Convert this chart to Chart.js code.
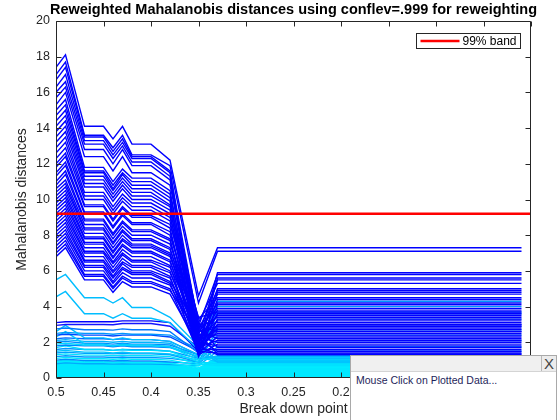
<!DOCTYPE html>
<html>
<head>
<meta charset="utf-8">
<script src="https://cdn.jsdelivr.net/npm/chart.js@4.4.1/dist/chart.umd.min.js"></script>
<style>
  body { margin: 0; background: #fff; }
  #wrap { position: relative; width: 560px; height: 420px; }
  #popup {
    position: absolute; left: 350px; top: 355px; width: 205px; height: 66px;
    border: 1px solid #a9a9a9; background: #fff;
    font-family: "Liberation Sans", Arial, sans-serif;
  }
  #popup .bar { position: relative; height: 15px; background: #f0f0f0; border-bottom: 1px solid #d4d4d4; }
  #popup .close {
    position: absolute; right: 0; top: 0; width: 14px; height: 15px;
    border-left: 1px solid #b8b8b8; background: #ececec;
    font-size: 15px; line-height: 15px; text-align: center; color: #444;
  }
  #popup .msg { font-size: 10.5px; line-height: 12px; color: #1e1e5a; padding: 2px 0 0 5px; }
</style>
</head>
<body>
<div id="wrap">
  <canvas id="mdchart" width="560" height="420"></canvas>
  <div id="popup">
    <div class="bar"><span class="close">X</span></div>
    <div class="msg">Mouse Click on Plotted Data...</div>
  </div>
</div>
<script>
// breakdown points where the trajectories change slope
const breakPoints = [0.5, 0.49, 0.47, 0.45, 0.44, 0.43, 0.42, 0.40, 0.38, 0.35, 0.33, 0.01];

// units that start far out (blue)
const upperRuns = [
  [17.4, 18.1, 14.1, 14.1, 13.4, 14.1, 13.1, 13.1, 12.2, 4.6, 7.3, 7.3],
  [17.0, 17.7, 13.6, 13.6, 12.9, 13.6, 12.5, 12.5, 11.9, 4.2, 7.1, 7.1],
  [16.7, 17.4, 13.5, 13.5, 12.7, 13.4, 12.4, 12.4, 11.6, 1.8, 5.9, 5.9],
  [16.3, 17.0, 13.3, 13.3, 12.5, 13.2, 12.3, 12.3, 11.5, 2.9, 5.8, 5.8],
  [16.0, 16.6, 13.1, 13.1, 12.3, 13.0, 12.1, 12.1, 11.3, 1.5, 5.6, 5.6],
  [15.7, 16.3, 12.8, 12.8, 12.0, 12.8, 11.9, 11.9, 11.1, 2.4, 5.5, 5.5],
  [15.3, 16.0, 12.4, 12.4, 11.6, 12.4, 11.5, 11.5, 10.8, 3.1, 5.3, 5.3],
  [15.0, 15.6, 11.8, 11.8, 11.0, 11.7, 11.2, 11.2, 10.5, 1.9, 5.0, 5.0],
  [14.7, 15.3, 11.6, 11.6, 10.8, 11.5, 11.0, 11.0, 10.3, 2.7, 4.9, 4.9],
  [14.4, 15.0, 11.5, 11.5, 10.6, 11.4, 10.8, 10.8, 10.1, 1.3, 4.8, 4.8],
  [14.1, 14.7, 11.3, 11.3, 10.5, 11.2, 10.6, 10.6, 9.9, 2.1, 4.7, 4.7],
  [13.8, 14.4, 11.1, 11.1, 10.3, 11.0, 10.4, 10.4, 9.7, 3.3, 4.5, 4.5],
  [13.5, 14.1, 10.9, 10.9, 10.1, 10.8, 10.2, 10.2, 9.6, 1.7, 4.4, 4.4],
  [13.2, 13.8, 10.7, 10.7, 9.9, 10.6, 10.0, 10.0, 9.4, 2.5, 4.2, 4.2],
  [12.9, 13.5, 10.4, 10.4, 9.6, 10.3, 9.8, 9.8, 9.2, 1.4, 4.1, 4.1],
  [12.6, 13.2, 10.2, 10.2, 9.4, 10.1, 9.6, 9.6, 9.0, 2.9, 3.9, 3.9],
  [12.3, 12.9, 10.0, 10.0, 9.2, 9.9, 9.4, 9.4, 8.8, 2.0, 3.8, 3.8]
];

const middleRuns = [
  [12.0, 12.6, 9.7, 9.7, 8.9, 9.6, 9.1, 9.1, 8.6, 3.4, 3.7, 3.7],
  [11.8, 12.4, 9.6, 9.6, 8.8, 9.5, 9.0, 9.0, 8.4, 1.6, 3.6, 3.6],
  [11.5, 12.1, 9.3, 9.3, 8.5, 9.2, 8.7, 8.7, 8.2, 2.3, 3.5, 3.5],
  [11.3, 11.9, 9.2, 9.2, 8.4, 9.1, 8.6, 8.6, 8.0, 2.8, 3.4, 3.4],
  [11.0, 11.6, 8.9, 8.9, 8.1, 8.8, 8.3, 8.3, 7.8, 1.2, 3.3, 3.3],
  [10.8, 11.4, 8.8, 8.8, 8.0, 8.7, 8.2, 8.2, 7.7, 2.2, 3.2, 3.2],
  [10.6, 11.1, 8.6, 8.6, 7.8, 8.5, 8.0, 8.0, 7.5, 3.0, 3.1, 3.1],
  [10.4, 10.9, 8.4, 8.4, 7.6, 8.3, 7.8, 7.8, 7.3, 1.8, 3.0, 3.0],
  [10.2, 10.7, 8.3, 8.3, 7.5, 8.2, 7.7, 7.7, 7.2, 2.6, 2.9, 2.9],
  [10.0, 10.5, 8.1, 8.1, 7.3, 8.0, 7.5, 7.5, 7.0, 1.5, 2.8, 2.8],
  [9.8, 10.3, 7.9, 7.9, 7.1, 7.8, 7.4, 7.4, 6.9, 2.1, 2.7, 2.7],
  [9.6, 10.1, 7.8, 7.8, 7.0, 7.7, 7.3, 7.3, 6.8, 2.9, 2.6, 2.6],
  [9.4, 9.9, 7.6, 7.6, 6.8, 7.5, 7.1, 7.1, 6.6, 1.9, 2.5, 2.5],
  [9.2, 9.7, 7.5, 7.5, 6.7, 7.4, 7.0, 7.0, 6.5, 2.4, 2.4, 2.4],
  [9.0, 9.5, 7.3, 7.3, 6.5, 7.2, 6.8, 6.8, 6.3, 1.4, 2.3, 2.3],
  [8.8, 9.3, 7.1, 7.1, 6.4, 7.0, 6.6, 6.6, 6.2, 2.7, 2.2, 2.2],
  [8.6, 9.1, 7.0, 7.0, 6.2, 6.9, 6.5, 6.5, 6.0, 1.7, 2.1, 2.1],
  [8.4, 8.9, 6.8, 6.8, 6.0, 6.7, 6.3, 6.3, 5.9, 2.3, 2.0, 2.0],
  [8.2, 8.7, 6.6, 6.6, 5.9, 6.5, 6.2, 6.2, 5.7, 1.3, 1.9, 1.9],
  [8.0, 8.5, 6.5, 6.5, 5.7, 6.4, 6.0, 6.0, 5.6, 2.0, 1.8, 1.8],
  [7.8, 8.3, 6.3, 6.3, 5.6, 6.2, 5.9, 5.9, 5.4, 2.8, 1.7, 1.7],
  [7.6, 8.1, 6.2, 6.2, 5.4, 6.1, 5.8, 5.8, 5.3, 1.6, 1.6, 1.6],
  [7.4, 7.9, 6.0, 6.0, 5.3, 5.9, 5.6, 5.6, 5.2, 2.2, 1.5, 1.5],
  [7.2, 7.7, 5.8, 5.8, 5.1, 5.7, 5.4, 5.4, 5.0, 1.5, 1.4, 1.4],
  [7.0, 7.5, 5.7, 5.7, 5.0, 5.6, 5.3, 5.3, 4.9, 2.5, 1.35, 1.35],
  [6.8, 7.3, 5.5, 5.5, 4.8, 5.4, 5.1, 5.1, 4.7, 1.8, 1.3, 1.3]
];

// units close to the centre (cyan shades)
const lowRuns = [
  [5.5, 5.8, 4.5, 4.5, 4.2, 4.5, 3.95, 3.95, 3.4, 1.8, 1.0, 1.0],
  [4.55, 4.85, 3.6, 3.6, 3.35, 3.6, 3.35, 3.35, 3.1, 1.6, 0.9, 0.9],
  [3.1, 3.15, 3.15, 3.15, 3.15, 3.2, 3.2, 3.2, 3.1, 1.5, 3.0, 3.0],
  [2.95, 3.0, 3.0, 3.0, 2.98, 3.05, 3.05, 3.05, 2.9, 1.7, 2.6, 2.6],
  [2.75, 2.8, 2.7, 2.7, 2.68, 2.75, 2.7, 2.7, 2.6, 1.4, 3.7, 3.7],
  [2.6, 2.95, 2.25, 2.25, 2.15, 2.25, 2.15, 2.15, 2.05, 1.3, 1.1, 1.1],
  [2.5, 2.55, 2.5, 2.5, 2.45, 2.5, 2.45, 2.45, 2.4, 1.6, 4.3, 4.3],
  [2.4, 2.45, 2.4, 2.4, 2.35, 2.4, 2.4, 2.4, 2.3, 1.5, 2.9, 2.9],
  [2.3, 2.6, 1.9, 1.9, 1.8, 1.9, 1.85, 1.85, 1.75, 1.2, 0.9, 0.9],
  [2.2, 2.25, 2.2, 2.2, 2.15, 2.2, 2.15, 2.15, 2.05, 1.3, 3.3, 3.3],
  [2.1, 2.15, 2.05, 2.05, 2.0, 2.05, 2.0, 2.0, 1.95, 1.1, 1.2, 1.2],
  [2.0, 2.05, 1.95, 1.95, 1.9, 1.95, 1.9, 1.9, 1.85, 1.3, 3.6, 3.6],
  [1.9, 1.95, 1.85, 1.85, 1.8, 1.85, 1.8, 1.8, 1.75, 1.0, 1.15, 1.15],
  [1.8, 1.85, 1.8, 1.8, 1.75, 1.8, 1.75, 1.75, 1.7, 1.2, 2.4, 2.4],
  [1.7, 1.8, 1.6, 1.6, 1.55, 1.6, 1.55, 1.55, 1.5, 0.9, 0.8, 0.8],
  [1.6, 1.65, 1.6, 1.6, 1.55, 1.6, 1.58, 1.58, 1.5, 1.1, 4.0, 4.0],
  [1.5, 1.55, 1.45, 1.45, 1.4, 1.45, 1.4, 1.4, 1.35, 1.0, 1.25, 1.25],
  [1.4, 1.45, 1.38, 1.38, 1.35, 1.38, 1.35, 1.35, 1.3, 0.9, 2.1, 2.1],
  [1.3, 1.35, 1.28, 1.28, 1.25, 1.28, 1.25, 1.25, 1.2, 0.8, 0.7, 0.7],
  [1.2, 1.25, 1.18, 1.18, 1.15, 1.18, 1.15, 1.15, 1.1, 0.9, 2.7, 2.7],
  [1.1, 1.15, 1.08, 1.08, 1.05, 1.08, 1.05, 1.05, 1.0, 0.7, 1.0, 1.0],
  [1.0, 1.05, 0.98, 0.98, 0.95, 0.98, 0.95, 0.95, 0.9, 0.8, 1.75, 1.75],
  [0.9, 0.95, 0.88, 0.88, 0.86, 0.88, 0.86, 0.86, 0.82, 0.6, 0.6, 0.6],
  [0.8, 0.85, 0.8, 0.8, 0.78, 0.8, 0.78, 0.78, 0.75, 0.7, 1.5, 1.5]
];

const lowColors = [
  "rgb(0,190,255)", "rgb(0,190,255)", "rgb(0,0,255)", "rgb(20,20,255)",
  "rgb(0,120,255)", "rgb(0,190,255)", "rgb(0,150,255)", "rgb(0,70,255)",
  "rgb(0,205,255)", "rgb(0,110,255)", "rgb(0,180,255)", "rgb(0,140,255)",
  "rgb(0,215,255)", "rgb(0,130,255)", "rgb(0,220,255)", "rgb(0,150,255)",
  "rgb(0,195,255)", "rgb(0,160,255)", "rgb(0,225,255)", "rgb(0,150,255)",
  "rgb(0,230,255)", "rgb(0,140,255)", "rgb(0,235,255)", "rgb(0,170,255)"
];

// the dense mass of tiny distances, drawn as one filled band
const cyanFloor = [0.95, 1.0, 0.92, 0.92, 0.9, 0.92, 0.9, 0.9, 0.86, 0.55, 1.2, 1.2];

const bandLevel = 9.2;
const bandLabel = "99% band";
const chartTitle = "Reweighted Mahalanobis distances using conflev=.999 for reweighting";

function toPoints(row) {
  return breakPoints.map((bp, i) => ({ x: bp, y: row[i] }));
}

const datasets = [];
datasets.push({
  label: bandLabel,
  data: [{ x: 0.5, y: bandLevel }, { x: 0, y: bandLevel }],
  borderColor: "#ff0000",
  borderWidth: 2.6,
  order: 0
});
upperRuns.concat(middleRuns).forEach((row) => {
  datasets.push({ data: toPoints(row), borderColor: "#0000ff", borderWidth: 1.4, order: 3 });
});
lowRuns.forEach((row, i) => {
  datasets.push({ data: toPoints(row), borderColor: lowColors[i], borderWidth: 1.4, order: 4 });
});
datasets.push({
  data: toPoints(cyanFloor),
  borderColor: "rgb(0,225,255)",
  backgroundColor: "rgb(0,232,255)",
  borderWidth: 1,
  fill: "origin",
  order: 6
});

// MATLAB style box with inward ticks, the title over the axes and the legend box
const axesBox = {
  id: "axesBox",
  afterDatasetsDraw(chart) {
    const { ctx, chartArea: a, scales } = chart;
    const L = Math.round(a.left) + 0.5, R = Math.round(a.right) - 0.5;
    const T = Math.round(a.top) + 0.5, B = Math.round(a.bottom) - 0.5;
    ctx.save();
    ctx.strokeStyle = "#262626";
    ctx.lineWidth = 1;
    ctx.beginPath();
    ctx.rect(L, T, R - L, B - T);
    scales.x.ticks.forEach((t) => {
      const px = Math.round(scales.x.getPixelForValue(t.value)) + 0.5;
      ctx.moveTo(px, B); ctx.lineTo(px, B - 5);
      ctx.moveTo(px, T); ctx.lineTo(px, T + 5);
    });
    scales.y.ticks.forEach((t) => {
      const py = Math.round(scales.y.getPixelForValue(t.value)) + 0.5;
      ctx.moveTo(L, py); ctx.lineTo(L + 5, py);
      ctx.moveTo(R, py); ctx.lineTo(R - 5, py);
    });
    ctx.stroke();

    // title
    ctx.fillStyle = "#000";
    ctx.font = "bold 14.5px 'Liberation Sans', Arial, sans-serif";
    ctx.textAlign = "center";
    ctx.textBaseline = "alphabetic";
    ctx.fillText(chartTitle, (a.left + a.right) / 2, 13.5);

    // legend
    const bw = 104, bh = 15;
    const bx = Math.round(a.right - 11 - bw) + 0.5, by = Math.round(a.top + 12) + 0.5;
    ctx.fillStyle = "#fff";
    ctx.fillRect(bx, by, bw, bh);
    ctx.strokeStyle = "#262626";
    ctx.strokeRect(bx, by, bw, bh);
    ctx.beginPath();
    ctx.strokeStyle = "#ff0000";
    ctx.lineWidth = 2.6;
    ctx.moveTo(bx + 4, by + bh / 2);
    ctx.lineTo(bx + 43, by + bh / 2);
    ctx.stroke();
    ctx.fillStyle = "#000";
    ctx.font = "12px 'Liberation Sans', Arial, sans-serif";
    ctx.textAlign = "left";
    ctx.textBaseline = "middle";
    ctx.fillText(bandLabel, bx + 46, by + bh / 2 + 0.5);
    ctx.restore();
  }
};

new Chart(document.getElementById("mdchart"), {
  type: "line",
  data: { datasets: datasets },
  options: {
    responsive: false,
    animation: false,
    events: [],
    layout: { padding: { left: 0, right: 29, top: 21, bottom: 0 } },
    elements: { point: { radius: 0 }, line: { tension: 0 } },
    plugins: {
      legend: { display: false },
      tooltip: { enabled: false },
      title: { display: false }
    },
    scales: {
      x: {
        type: "linear",
        reverse: true,
        min: 0,
        max: 0.5,
        grid: { display: false, drawTicks: false },
        border: { display: false },
        ticks: {
          stepSize: 0.05,
          autoSkip: false,
          maxRotation: 0,
          padding: 7,
          color: "#262626",
          font: { family: "'Liberation Sans', Arial, sans-serif", size: 12.5 },
          callback: (v) => String(+v.toFixed(2))
        },
        title: {
          display: true,
          text: "Break down point",
          color: "#262626",
          font: { family: "'Liberation Sans', Arial, sans-serif", size: 14 },
          padding: { top: 0, bottom: 2 }
        },
        afterFit: (scale) => { scale.height = 42; }
      },
      y: {
        min: 0,
        max: 20,
        grid: { display: false, drawTicks: false },
        border: { display: false },
        ticks: {
          stepSize: 2,
          padding: 6,
          color: "#262626",
          font: { family: "'Liberation Sans', Arial, sans-serif", size: 12.5 }
        },
        title: {
          display: true,
          text: "Mahalanobis distances",
          color: "#262626",
          font: { family: "'Liberation Sans', Arial, sans-serif", size: 14 },
          padding: { top: 14, bottom: 0 }
        },
        afterFit: (scale) => { scale.width = 56; }
      }
    }
  },
  plugins: [axesBox]
});
</script>
</body>
</html>
